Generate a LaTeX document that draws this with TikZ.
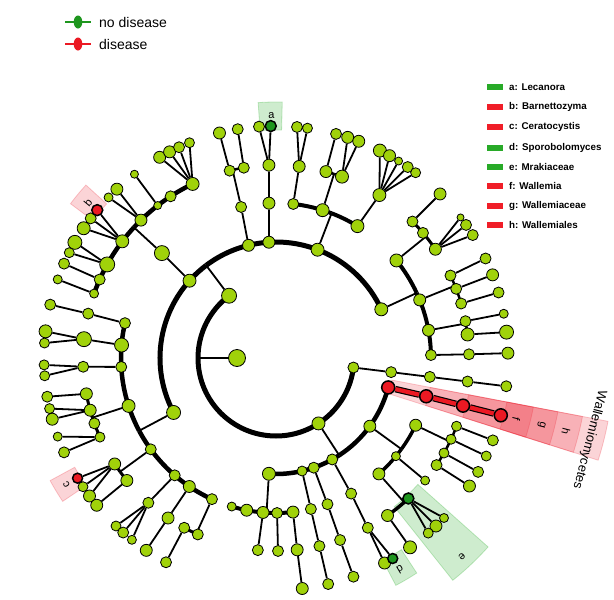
\documentclass[tikz,border=0pt]{standalone}
\usepackage{fontspec}
\setmainfont{Liberation Sans}
\usetikzlibrary{backgrounds,shapes.geometric}
\definecolor{yg}{RGB}{160,210,10}
\definecolor{dg}{RGB}{30,150,30}
\definecolor{rd}{RGB}{235,25,35}
\definecolor{hg}{RGB}{60,180,60}
\definecolor{hr}{RGB}{235,40,55}
\definecolor{lgg}{RGB}{40,170,40}
\definecolor{lgr}{RGB}{240,30,40}
% parent node, parent angle, child radius, first child angle, last child angle, arc width
\newcommand\clade[6]{%
  \draw[edge] (#1) -- (#2:#3);
  \draw[line width=#6pt] (#2:#3) arc[start angle=#2, end angle=#4, radius=#3];
  \draw[line width=#6pt] (#2:#3) arc[start angle=#2, end angle=#5, radius=#3];}
% angle1, angle2, inner radius, outer radius, style
\newcommand\hlsector[5]{%
  \path[#5] (#1:#3) arc[start angle=#1, end angle=#2, radius=#3] -- (#2:#4)
    arc[start angle=#2, end angle=#1, radius=#4] -- cycle;}
\begin{document}
\begin{tikzpicture}[x=1pt,y=-1pt,
  nd/.style={circle,draw=black,line width=0.8pt,fill=yg,inner sep=0pt,minimum size=#1},
  rnd/.style={circle,draw=black,line width=1.5pt,fill=rd,inner sep=0pt,minimum size=#1},
  gnd/.style={circle,draw=black,line width=1.5pt,fill=dg,inner sep=0pt,minimum size=#1},
  edge/.style={line width=1.8pt,black},
  pinkw/.style={fill=hr,fill opacity=0.2,draw=hr,draw opacity=0.25,line width=0.8pt},
  greenw/.style={fill=hg,fill opacity=0.25,draw=hg,draw opacity=0.3,line width=0.8pt},
  lab/.style={font=\fontsize{11}{12}\selectfont,inner sep=0pt},
  legtext/.style={anchor=west,inner sep=0pt,font=\fontsize{9.8}{11}\selectfont\bfseries}]
\useasboundingbox (0,0) rectangle (614,600);

% ---------- top-left legend ----------
\draw[line width=2.6pt,dg] (65,22) -- (91,22);
\node[ellipse,fill=dg,minimum width=8.6pt,minimum height=13pt,inner sep=0pt] (lg1) at (78,22) {};
\node[anchor=west,inner sep=0pt,font=\fontsize{14}{16}\selectfont] (lt1) at (99,22) {no disease};
\draw[line width=2.6pt,rd] (65,44) -- (91,44);
\node[ellipse,fill=rd,minimum width=8.6pt,minimum height=13pt,inner sep=0pt] (lg2) at (78,44) {};
\node[anchor=west,inner sep=0pt,font=\fontsize{14}{16}\selectfont] (lt2) at (99,44) {disease};

% ---------- right legend ----------
\foreach \yy/\cc/\tt [count=\i] in {87.3/lgg/{a: Lecanora},106.7/lgr/{b: Barnettozyma},127.3/lgr/{c: Ceratocystis},148.3/lgg/{d: Sporobolomyces},166.7/lgg/{e: Mrakiaceae},186/lgr/{f: Wallemia},206/lgr/{g: Wallemiaceae},225.3/lgr/{h: Wallemiales}}{
  \node[fill=\cc,minimum width=16pt,minimum height=6pt,inner sep=0pt] (bar\i) at (495,\yy) {};
  \node[legtext] (leg\i) at (509,\yy) {\tt};
}

% ---------- cladogram ----------
\begin{scope}[shift={(276,358)}]
\foreach \nm/\an/\ra/\sz in {
R/180/39/17, P1/233/78/15, P2/57/78/13, P3/7/78/11,
C3/7/116/11, O3/7/155/11, F3/7/193/11, G3/7/232/11,
C36/36/116/12, C61/61/116/11, C71/71/116/11, C77/77/116/10, C93/93.5/116/13,
O25/25.7/155/12, O39/39.3/155/9, O48/48.4/155/12,
F207/20.7/193/10, F249/24.9/193/10, F295/29.5/193/10, F337/33.7/193/11,
G208/20.8/232/11, G250/25/232/10, G294/29.4/232/11, G335/33.5/232/12,
F394/39.4/193/9, F547/54.7/193/12,
G436/43.6/232/9, G464/46.4/232/12, G490/49/232/10, G547/54.7/232/13,
O61/61/155/11, F616/61.6/193/11, G621/62.1/232/12,
O71/70.6/155/11, F71/70.6/193/11, G71/70.5/232/11,
O77/77/155/11, F77/77/193/11, G77/77/232/11,
O1066/106.6/155/9, O1009/100.9/155/12, O948/94.8/155/12, O896/89.6/155/11, O837/83.7/155/12,
F954/95.4/193/11, F894/89.4/193/11, F837/83.7/193/12, G835/83.5/232/12,
C152/152/116/14, C222/221.8/116/13, C256/256.3/116/12, C266/266.5/116/12, C291/291/116/13, C335/335.2/116/13,
O193/193/155/11, O185/184.8/155/14, O177/176.7/155/11, O162/162/155/13, O144/143.9/155/11, O131/130.8/155/11, O124/124/155/12, O114/114.4/155/11,
F193/193.3/193/11, G193/193.3/232/11,
F186/185.6/193/15, G187/186.6/232/13, G184/183.7/232/10,
F177/177.4/193/11, G178/178.3/232/10, G176/175.6/232/10,
F169/169.3/193/12, F164/164.3/193/12, F160/160.2/193/11, F156/155.8/193/10,
G170/170.4/232/11, G167/167.4/232/10, G165/164.7/232/12, G160/160.2/232/9, G156/156/232/11,
F147/146.7/193/12, F141/140.6/193/12, G146/146.3/232/10, G143/143.5/232/12, G141/140.6/232/12,
F131/131.4/193/11, G134/133.6/232/10, G1312/131.2/232/11, G128/128.4/232/9,
F124/124/193/12, G124/124/232/12, F118/118.4/193/11, F114/113.9/193/11, G118/118.3/232/11,
O223/222.6/155/15,
F1995/199.5/193/9, F204/204/193/11, F209/209/193/15, F217/217.2/193/13, F226/225.6/193/12, F232/232.2/193/8, F237/236.9/193/11, F244/244.4/193/13,
G1998/199.8/232/9, G204/204/232/11, G2099/209.9/232/14, G207/207/232/10, G217/217/232/11, G214/214/232/13, G2267/226.7/232/12, G2238/223.8/232/9, G2324/232.4/232/8, G2399/239.9/232/12, G2427/242.7/232/12, G2453/245.3/232/11, G2481/248.1/232/10,
O257/257/155/11, F2561/256.1/193/11, F2604/260.4/193/11, G2559/255.9/232/12, G2605/260.5/232/11,
O267/267.4/155/12, F268/267.9/193/12, G2658/265.8/232/11,
O276/276.4/155/11, O2875/287.5/155/13, O3017/301.7/155/13,
F2769/276.9/193/12, G2752/275.2/232/11, G2778/277.8/232/10,
F285/285/193/12, F290/290/193/13, G285/285/232/11, G288/288/232/12, G2909/290.9/232/12,
F3024/302.4/193/13, G2966/296.6/232/13, G2993/299.3/232/12, G3019/301.9/232/8, G3046/304.6/232/11, G307/307/232/10,
O321/321/155/13, O338/338/155/12, O3497/349.7/155/12, O359/358.9/155/11,
F315/315/193/11, F3196/319.6/193/11, F3257/325.7/193/12, G315/315/232/12, G3227/322.7/232/7, G325/325/232/11, G328/328/232/11,
F3347/334.7/193/11, F339/339/193/11, F3436/343.6/193/11, G3346/334.6/232/11, G339/339/232/12, G3436/343.6/232/11,
F349/349/193/11, F353/353/193/13, G349/349/232/9, G3536/353.6/232/14,
F359/358.9/193/11, G359/358.8/232/12}
  \node[nd=\sz] (\nm) at (\an:\ra) {};
% red (disease) clades
\foreach \nm/\an/\ra/\sz in {CW/14.7/116/13, OW/14.3/155/13, FW/14.3/193/13, GW/14.3/232/13, Gb/219.6/232/11, Gc/148.8/232/10}
  \node[rnd=\sz] (\nm) at (\an:\ra) {};
% green (no disease) clades
\foreach \nm/\an/\ra/\sz in {Fe/46.7/193/11, Gd/59.8/232/10, Ga/268.7/232/11}
  \node[gnd=\sz] (\nm) at (\an:\ra) {};

\begin{scope}[on background layer]
  % highlighted clades
  \hlsector{10.8}{17.6}{118}{338}{pinkw}
  \hlsector{10.8}{17.6}{157}{312}{pinkw}
  \hlsector{10.8}{17.6}{196}{287}{pinkw}
  \hlsector{10.8}{17.6}{235}{262}{pinkw}
  \hlsector{41.7}{51.5}{190}{284}{greenw}
  \hlsector{266}{271.4}{228}{256}{greenw}
  \hlsector{56.8}{62.2}{229}{257}{greenw}
  \hlsector{216.9}{222.3}{229}{257}{pinkw}
  \hlsector{146.1}{151.5}{229}{257}{pinkw}
  % arcs
  \clade{R}{180}{78}{233}{7}{5}
  \clade{P1}{233}{116}{152}{335.2}{5}
  \clade{P2}{57}{116}{14.7}{93.5}{4.5}
  \clade{C152}{152}{155}{114.4}{193}{4.5}
  \clade{C36}{36}{155}{25.7}{48.4}{3.5}
  \clade{C93}{93.5}{155}{83.7}{106.6}{4}
  \clade{C291}{291}{155}{276.4}{301.7}{4}
  \clade{C335}{335.2}{155}{321}{358.9}{4}
  \clade{O223}{222.6}{193}{199.5}{244.4}{4.5}
  \clade{O162}{162}{193}{155.8}{169.3}{3}
  \clade{O144}{143.9}{193}{140.6}{146.7}{3}
  \clade{O114}{114.4}{193}{113.9}{118.4}{3}
  \clade{O25}{25.7}{193}{20.7}{33.7}{2.5}
  \clade{O48}{48.4}{193}{46.7}{54.7}{3.5}
  \clade{O257}{257}{193}{256.1}{260.4}{2.5}
  \clade{O2875}{287.5}{193}{285}{290}{2.5}
  \clade{O321}{321}{193}{315}{325.7}{3}
  \clade{O338}{338}{193}{334.7}{343.6}{2.5}
  \clade{O3497}{349.7}{193}{349}{353}{2.5}
  % straight connectors
  \foreach \a/\b in {P3/C3, C3/O3, O3/F3, F3/G3,
    F207/G208, F249/G250, F295/G294, F337/G335, O39/F394,
    Fe/G436, Fe/G464, Fe/G490, F547/G547,
    C61/O61, O61/F616, F616/G621, F616/Gd,
    C71/O71, O71/F71, F71/G71, C77/O77, O77/F77, F77/G77,
    O948/F954, O896/F894, O837/F837, F837/G835,
    O193/F193, F193/G193, O185/F186, F186/G187, F186/G184, O177/F177, F177/G178, F177/G176,
    F169/G170, F164/G167, F164/G165, F156/G160, F156/G156,
    F147/Gc, F147/G146, F147/G143, F141/G141,
    O131/F131, F131/G134, F131/G1312, F131/G128,
    O124/F124, F124/G124, F118/G118,
    C222/O223,
    F1995/G1998, F204/G204, F209/G2099, F209/G207, F217/Gb, F217/G217, F217/G214,
    F226/G2267, F226/G2238, F232/G2324, F244/G2399, F244/G2427, F244/G2453, F244/G2481,
    C256/O257, F2561/G2559, F2604/G2605,
    C266/O267, O267/F268, F268/G2658, F268/Ga,
    O276/F2769, F2769/G2752, F2769/G2778, F285/G285, F290/G288, F290/G2909,
    O3017/F3024, F3024/G2966, F3024/G2993, F3024/G3019, F3024/G3046, F3024/G307,
    F315/G315, F3257/G3227, F3257/G325, F3257/G328,
    F3347/G3346, F339/G339, F3436/G3436, F349/G349, F353/G3536,
    O359/F359, F359/G359}
    \draw[edge] (\a) -- (\b);
  % Wallemiomycetes branch
  \foreach \a/\b in {CW/OW, OW/FW, FW/GW}{
    \draw[line width=6.5pt] (\a) -- (\b);
    \draw[line width=4.2pt,rd] (\a) -- (\b);}
\end{scope}

% clade labels
\node[lab,rotate=1] (la) at (268.9:243) {a};
\node[lab,rotate=50.4] (lb) at (219.6:244) {b};
\node[lab,rotate=121.2] (lc) at (148.8:245) {c};
\node[lab,rotate=-149.5] (ld) at (59.5:245) {d};
\node[lab,rotate=-136.9] (le) at (46.9:272) {e};
\node[lab,rotate=-104.3] (lf) at (14.2:248) {f};
\node[lab,rotate=-104.3] (lgl) at (14.2:274) {g};
\node[lab,rotate=-104.3] (lh) at (14.2:299) {h};
\node[inner sep=0pt,font=\fontsize{13}{14}\selectfont,rotate=-104.5] (lw) at (14.6:324) {Wallemiomycetes};
\end{scope}
\end{tikzpicture}
\end{document}
